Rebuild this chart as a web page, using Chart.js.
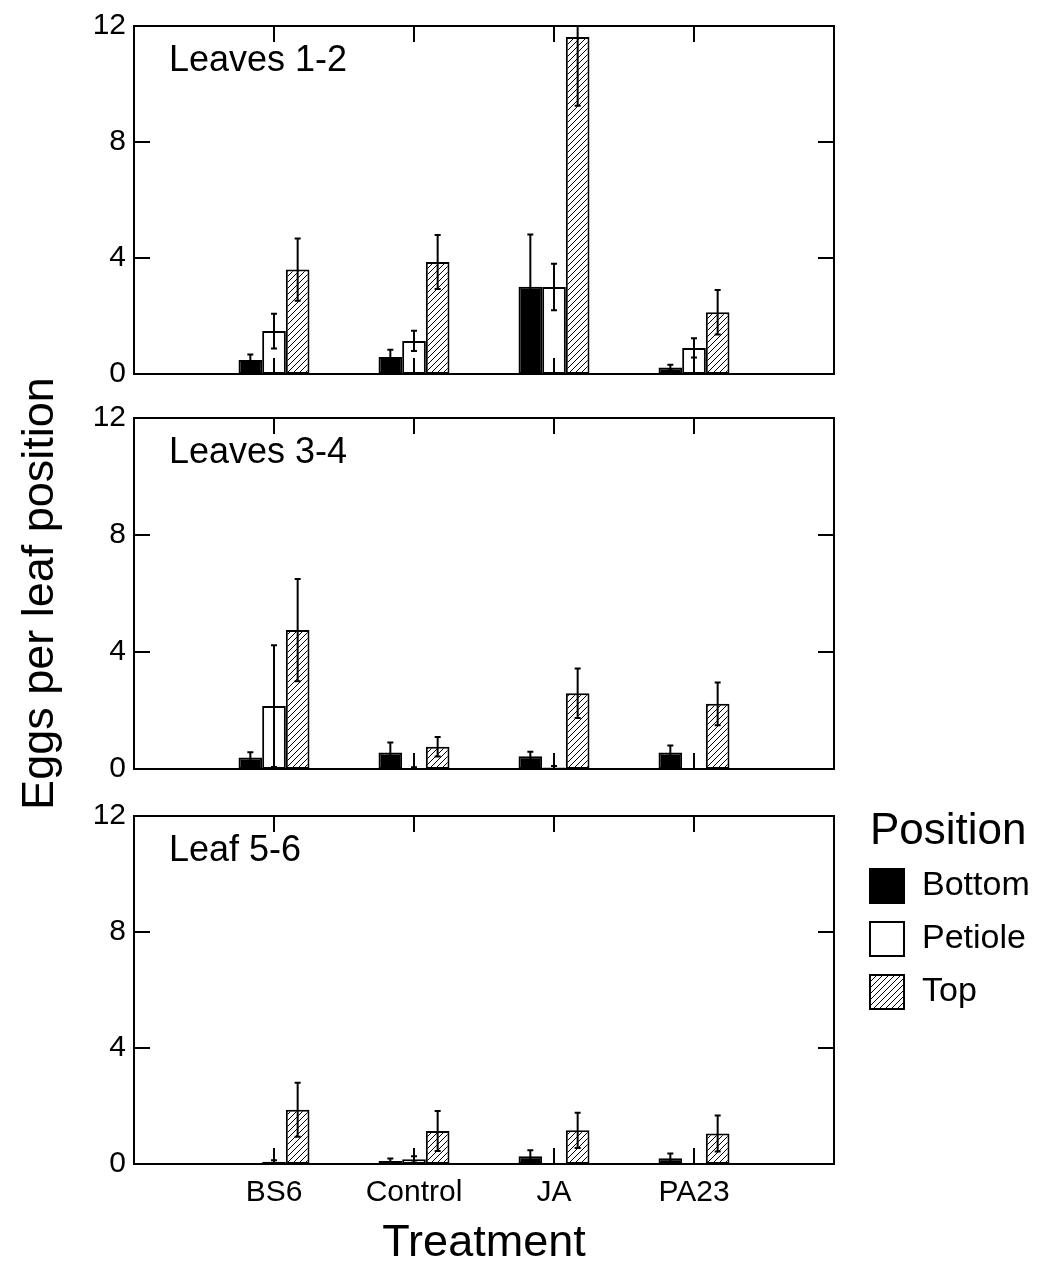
<!DOCTYPE html>
<html>
<head>
<meta charset="utf-8">
<title>Eggs per leaf position</title>
<script src="https://cdn.jsdelivr.net/npm/chart.js@4.4.0/dist/chart.umd.min.js"></script>
<style>
  body { margin: 0; background: #fff; }
  #wrap { position: relative; width: 1044px; height: 1266px; }
  .panel { position: absolute; left: 0; width: 1044px; }
</style>
</head>
<body>
<div id="wrap">
  <div class="panel" style="top:0px;height:400px"><canvas id="chart1"></canvas></div>
  <div class="panel" style="top:370px;height:460px"><canvas id="chart2"></canvas></div>
  <div class="panel" style="top:790px;height:476px"><canvas id="chart3"></canvas></div>
</div>
<script>
// categorias y series
var treatments = ['BS6', 'Control', 'JA', 'PA23'];
var positions = ['Bottom', 'Petiole', 'Top'];
var yTicks = [0, 4, 8, 12];
var panelNames = ['Leaves 1-2', 'Leaves 3-4', 'Leaf 5-6'];

// Leaves 1-2
var bottom12 = [0.48, 0.59, 3.01, 0.22];
var bottom12Err = [0.19, 0.25, 1.8, 0.1];
var petiole12 = [1.48, 1.14, 3.0, 0.9];
var petiole12Err = [0.6, 0.35, 0.8, 0.33];
var top12 = [3.6, 3.86, 11.62, 2.13];
var top12Err = [1.07, 0.93, 2.37, 0.77];

// Leaves 3-4
var bottom34 = [0.39, 0.56, 0.44, 0.56];
var bottom34Err = [0.18, 0.35, 0.15, 0.24];
var petiole34 = [2.15, 0.03, 0.05, 0];
var petiole34Err = [2.08, 0.03, 0.05, 0];
var top34 = [4.75, 0.76, 2.59, 2.23];
var top34Err = [1.75, 0.33, 0.85, 0.73];

// Leaf 5-6
var bottom56 = [0, 0.1, 0.27, 0.2];
var bottom56Err = [0, 0.09, 0.2, 0.16];
var petiole56 = [0.08, 0.16, 0, 0];
var petiole56Err = [0.05, 0.11, 0, 0];
var top56 = [1.87, 1.14, 1.16, 1.05];
var top56Err = [0.93, 0.69, 0.61, 0.62];

Chart.defaults.font.family = "'Liberation Sans', Arial, sans-serif";
Chart.defaults.color = '#000';

// relleno rayado para "Top"
function hatch() {
    var c = document.createElement('canvas');
    c.width = 6; c.height = 6;
    var g = c.getContext('2d');
    g.fillStyle = '#fff';
    g.fillRect(0, 0, 6, 6);
    g.strokeStyle = '#000';
    g.lineWidth = 1;
    g.beginPath();
    g.moveTo(0, 6); g.lineTo(6, 0);
    g.moveTo(-1, 1); g.lineTo(1, -1);
    g.moveTo(5, 7); g.lineTo(7, 5);
    g.stroke();
    return g.createPattern(c, 'repeat');
}
var hatchFill = hatch();
var fills = ['#000', '#fff', hatchFill];

// espacio vacio a cada lado del eje
function pad(arr) { return [null].concat(arr, [null]); }
var labels = pad(treatments).map(function (t) { return t || ''; });

// barras de error
var errorBars = {
    id: 'errorBars',
    afterDatasetsDraw: function (chart) {
        var ctx = chart.ctx, y = chart.scales.y, a = chart.chartArea;
        ctx.save();
        ctx.beginPath();
        ctx.rect(a.left, a.top, a.right - a.left, a.bottom - a.top);
        ctx.clip();
        ctx.strokeStyle = '#000';
        ctx.lineWidth = 2;
        chart.data.datasets.forEach(function (ds, i) {
            var meta = chart.getDatasetMeta(i);
            meta.data.forEach(function (bar, j) {
                var v = ds.data[j], e = ds.errors[j];
                if (v == null) return;
                var t = y.getPixelForValue(v + e);
                var b = y.getPixelForValue(Math.max(0, v - e));
                ctx.beginPath();
                ctx.moveTo(bar.x, t); ctx.lineTo(bar.x, b);
                ctx.moveTo(bar.x - 3, t); ctx.lineTo(bar.x + 3, t);
                ctx.moveTo(bar.x - 3, b); ctx.lineTo(bar.x + 3, b);
                ctx.stroke();
            });
        });
        ctx.restore();
    }
};

// marco con marcas hacia dentro y nombre del panel
var frame = {
    id: 'frame',
    afterDraw: function (chart, args, opts) {
        var ctx = chart.ctx, a = chart.chartArea;
        var x = chart.scales.x, y = chart.scales.y;
        ctx.save();
        ctx.strokeStyle = '#000';
        ctx.lineWidth = 2;
        ctx.strokeRect(a.left, a.top, a.right - a.left, a.bottom - a.top);
        ctx.beginPath();
        yTicks.forEach(function (v) {
            var p = y.getPixelForValue(v);
            ctx.moveTo(a.left, p); ctx.lineTo(a.left + 16, p);
            ctx.moveTo(a.right, p); ctx.lineTo(a.right - 16, p);
        });
        treatments.forEach(function (t, i) {
            var p = x.getPixelForValue(i + 1);
            ctx.moveTo(p, a.top); ctx.lineTo(p, a.top + 16);
            ctx.moveTo(p, a.bottom); ctx.lineTo(p, a.bottom - 16);
        });
        ctx.stroke();
        ctx.fillStyle = '#000';
        ctx.font = "36px 'Liberation Sans', Arial, sans-serif";
        ctx.textBaseline = 'alphabetic';
        ctx.fillText(opts.label, a.left + 35, a.top + 45);

        // leyenda (solo en el ultimo panel)
        if (opts.legend) {
            var lx = a.right + 35;
            ctx.font = "44px 'Liberation Sans', Arial, sans-serif";
            ctx.fillText('Position', lx + 1, a.top + 28);
            ctx.font = "34px 'Liberation Sans', Arial, sans-serif";
            ctx.textBaseline = 'middle';
            positions.forEach(function (p, i) {
                var sy = a.top + 52 + i * 53;
                ctx.fillStyle = fills[i];
                ctx.fillRect(lx, sy, 36, 36);
                ctx.lineWidth = 2;
                ctx.strokeRect(lx + 1, sy + 1, 34, 34);
                ctx.fillStyle = '#000';
                ctx.fillText(p, lx + 53, sy + 18);
            });
        }
        ctx.restore();
    }
};

function makeChart(id, name, series, errs, opts) {
    var ctx = document.getElementById(id).getContext('2d');
    var datasets = positions.map(function (p, i) {
        return {
            label: p,
            data: pad(series[i]),
            errors: pad(errs[i]),
            backgroundColor: fills[i],
            borderColor: '#000',
            borderWidth: 2,
            borderSkipped: false,
            categoryPercentage: 0.507,
            barPercentage: 1.0
        };
    });
    return new Chart(ctx, {
        type: 'bar',
        data: { labels: labels, datasets: datasets },
        options: {
            responsive: true,
            maintainAspectRatio: false,
            animation: false,
            layout: { padding: { left: 0, right: 210, top: opts.topPad, bottom: opts.bottomPad } },
            scales: {
                x: {
                    display: !!opts.xAxis,
                    offset: false,
                    grid: { display: false, drawTicks: false },
                    border: { display: false },
                    ticks: { font: { size: 30 }, padding: 11, maxRotation: 0, autoSkip: false },
                    title: {
                        display: !!opts.xAxis,
                        text: 'Treatment',
                        font: { size: 45, lineHeight: 1 },
                        padding: { top: 0, bottom: 0 }
                    },
                    afterFit: function (s) { if (opts.xAxis) s.height = 102; }
                },
                y: {
                    min: 0,
                    max: 12,
                    ticks: { stepSize: 4, font: { size: 30 }, padding: 8 },
                    grid: { display: false, drawTicks: false },
                    border: { display: false },
                    title: {
                        display: !!opts.yTitle,
                        text: 'Eggs per leaf position',
                        font: { size: 45, lineHeight: 1 },
                        padding: { top: 18, bottom: 0 }
                    },
                    afterFit: function (s) { s.width = 134; }
                }
            },
            plugins: {
                legend: { display: false },
                tooltip: { enabled: false },
                frame: { label: name, legend: !!opts.legend }
            }
        },
        plugins: [errorBars, frame]
    });
}

document.addEventListener('DOMContentLoaded', function () {
    makeChart('chart1', panelNames[0],
        [bottom12, petiole12, top12], [bottom12Err, petiole12Err, top12Err],
        { topPad: 23, bottomPad: 26 });
    makeChart('chart2', panelNames[1],
        [bottom34, petiole34, top34], [bottom34Err, petiole34Err, top34Err],
        { topPad: 48, bottomPad: 61, yTitle: true });
    makeChart('chart3', panelNames[2],
        [bottom56, petiole56, top56], [bottom56Err, petiole56Err, top56Err],
        { topPad: 23, bottomPad: 0, xAxis: true, legend: true });
});
</script>
</body>
</html>
